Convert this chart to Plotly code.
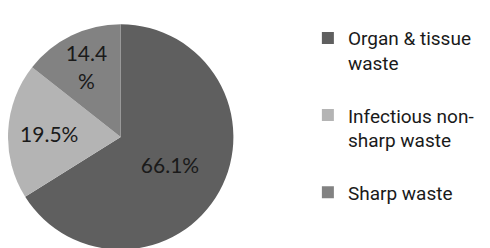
import plotly.graph_objects as go

categories = ["Organ & tissue<br>waste<br> ", "Infectious non-<br>sharp waste<br> ", "Sharp waste"]
values = [66.1, 19.5, 14.4]
slice_text = ["66.1%", "19.5%", "14.4<br>%"]
colors = ["#5f5f5f", "#b4b4b4", "#828282"]

fig = go.Figure(go.Pie(
    labels=categories,
    values=values,
    text=slice_text,
    texttemplate="%{text}",
    textposition="inside",
    insidetextorientation="horizontal",
    sort=False,
    direction="clockwise",
    rotation=0,
    marker=dict(colors=colors, line=dict(width=0)),
    textfont=dict(family="Lato", size=21, color="#1a1a1a"),
    domain=dict(x=[0.0, 0.46], y=[0.0, 0.96]),
    hoverinfo="skip",
))

fig.update_layout(
    width=490, height=248,
    margin=dict(l=0, r=0, t=0, b=0),
    paper_bgcolor="white",
    plot_bgcolor="white",
    showlegend=True,
    legend=dict(
        x=0.612, y=0.955, xanchor="left", yanchor="top",
        font=dict(family="Roboto", size=19, color="#1a1a1a"),
        itemwidth=30, valign="top",
    ),
)

fig.write_html("out.html")
